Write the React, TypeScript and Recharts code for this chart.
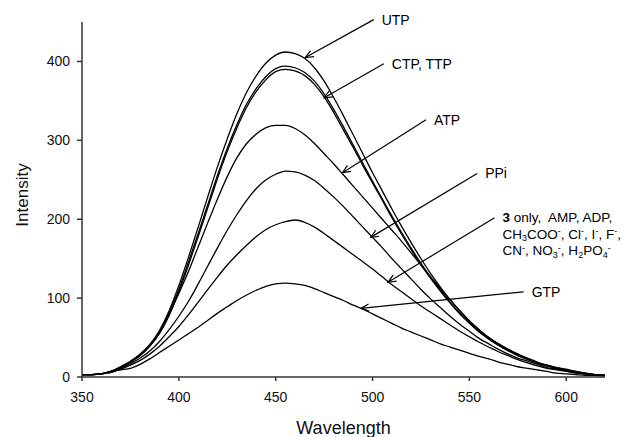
import React from 'react';
import { LineChart, Line, XAxis, YAxis, ReferenceLine, Label } from 'recharts';

const wavelengths = [350, 355, 360, 365, 370, 375, 380, 385, 390, 395, 400, 405, 410, 415, 420, 425, 430, 435, 440, 445, 450, 455, 460, 465, 470, 475, 480, 485, 490, 495, 500, 505, 510, 515, 520, 525, 530, 535, 540, 545, 550, 555, 560, 565, 570, 575, 580, 585, 590, 595, 600, 605, 610, 615, 620];

const utp = [3, 3, 4, 7, 13, 20, 29, 41, 59, 84, 116, 152, 190, 229, 267, 302, 334, 361, 382, 398, 408, 412, 410, 404, 392, 375, 354, 331, 307, 283, 259, 236, 213, 191, 170, 150, 131, 114, 98, 84, 71, 60, 50, 42, 35, 29, 24, 19, 15, 12, 10, 7, 5, 3, 2];
const ctp = [3, 3, 4, 7, 12, 19, 28, 40, 57, 81, 111, 146, 182, 219, 256, 290, 320, 346, 366, 381, 391, 394, 392, 386, 375, 359, 339, 317, 294, 271, 248, 226, 204, 183, 163, 144, 126, 110, 95, 81, 69, 58, 49, 41, 34, 28, 23, 18, 15, 12, 9, 7, 5, 3, 2];
const ttp = [3, 3, 4, 7, 12, 19, 27, 39, 55, 78, 108, 142, 178, 215, 252, 286, 316, 342, 362, 377, 387, 390, 388, 382, 371, 355, 335, 313, 291, 268, 246, 224, 202, 181, 161, 142, 125, 109, 94, 80, 68, 57, 48, 40, 33, 27, 22, 18, 14, 11, 9, 6, 4, 3, 2];
const atp = [3, 3, 4, 7, 13, 20, 29, 41, 58, 80, 106, 134, 165, 196, 226, 254, 278, 296, 308, 316, 319, 319, 315, 307, 296, 283, 270, 256, 242, 228, 214, 200, 186, 172, 157, 142, 127, 112, 98, 84, 71, 60, 50, 42, 35, 29, 23, 18, 14, 11, 9, 6, 4, 3, 2];
const ppi = [3, 3, 4, 6, 11, 17, 24, 33, 45, 60, 77, 96, 118, 141, 164, 186, 206, 224, 239, 250, 257, 261, 260, 256, 249, 239, 228, 216, 203, 190, 177, 164, 150, 137, 124, 111, 99, 88, 77, 67, 58, 49, 42, 35, 29, 24, 20, 16, 12, 10, 8, 6, 4, 3, 2];
const only3 = [3, 3, 4, 6, 10, 15, 21, 29, 39, 51, 64, 79, 95, 111, 127, 142, 155, 167, 178, 187, 193, 197, 199, 196, 190, 182, 173, 164, 155, 146, 137, 127, 117, 108, 99, 90, 82, 74, 66, 58, 51, 44, 38, 32, 27, 22, 18, 14, 11, 9, 7, 5, 4, 3, 2];
const gtp = [3, 3, 4, 7, 9, 11, 16, 23, 31, 39, 47, 55, 63, 72, 81, 89, 97, 104, 110, 115, 118, 119, 118, 116, 112, 107, 102, 97, 91, 86, 80, 74, 68, 62, 57, 52, 47, 42, 38, 34, 30, 26, 23, 19, 16, 13, 11, 9, 7, 5, 4, 3, 2, 2, 1];

const seriesKeys = ['UTP', 'CTP', 'TTP', 'ATP', 'PPi', 'only3', 'GTP'];
const seriesValues = [utp, ctp, ttp, atp, ppi, only3, gtp];

const xTicks = [350, 400, 450, 500, 550, 600];
const yTicks = [0, 100, 200, 300, 400];

// annotation arrows (data coordinates): tail and tip
const annotations = [
  { label: 'UTP', from: [500.6, 453], to: [465.3, 405] },
  { label: 'CTP, TTP', from: [505.8, 397], to: [475, 354] },
  { label: 'ATP', from: [527.6, 326], to: [484.5, 259] },
  { label: 'PPi', from: [554, 258], to: [499, 177] },
  { label: 'only3', from: [563, 202], to: [508, 120] },
  { label: 'GTP', from: [578, 108], to: [494, 87] },
];

const data = wavelengths.map((wl, i) => {
  const row: any = { wl };
  seriesKeys.forEach((k, j) => {
    row[k] = seriesValues[j][i];
  });
  return row;
});

const FONT = '"Liberation Sans", Arial, Helvetica, sans-serif';

type Part = [string, 'n' | 'sub' | 'sup'];

function renderParts(parts: Part[]) {
  let offset = 0;
  return parts.map(([t, kind], i) => {
    const target = kind === 'sub' ? 2.5 : kind === 'sup' ? -4.5 : 0;
    const dy = target - offset;
    offset = target;
    return (
      <tspan key={i} dy={dy} fontSize={kind === 'n' ? 13.5 : 9}>
        {t}
      </tspan>
    );
  });
}

const line2: Part[] = [
  ['CH', 'n'], ['3', 'sub'], ['COO', 'n'], ['-', 'sup'], [', Cl', 'n'], ['-', 'sup'],
  [', I', 'n'], ['-', 'sup'], [', F', 'n'], ['-', 'sup'], [',', 'n'],
];
const line3: Part[] = [
  ['CN', 'n'], ['-', 'sup'], [', NO', 'n'], ['3', 'sub'], ['-', 'sup'], [', H', 'n'],
  ['2', 'sub'], ['PO', 'n'], ['4', 'sub'], ['-', 'sup'],
];

function makeArrowShape(label: string) {
  return (p: any) => {
    const { x1, y1, x2, y2 } = p;
    if ([x1, y1, x2, y2].some((v) => typeof v !== 'number' || isNaN(v))) return <g />;
    const dx = x2 - x1;
    const dy = y2 - y1;
    const len = Math.sqrt(dx * dx + dy * dy) || 1;
    const ux = dx / len;
    const uy = dy / len;
    const hl = 8;
    const hw = 3.5;
    const bx = x2 - ux * hl;
    const by = y2 - uy * hl;
    const ax = bx - uy * hw;
    const ay = by + ux * hw;
    const cx = bx + uy * hw;
    const cy = by - ux * hw;
    const tx = x1 + 8;
    let text;
    if (label === 'only3') {
      text = (
        <g fontFamily={FONT} fill="#000">
          <text x={tx} y={y1 + 4} fontSize={13.5}>
            <tspan fontWeight="bold">3</tspan>
            <tspan>{' only,\u00a0 AMP, ADP,'}</tspan>
          </text>
          <text x={tx} y={y1 + 21} fontSize={13.5}>
            {renderParts(line2)}
          </text>
          <text x={tx} y={y1 + 37.5} fontSize={13.5}>
            {renderParts(line3)}
          </text>
        </g>
      );
    } else {
      text = (
        <text x={tx} y={y1 + 5} fontFamily={FONT} fill="#000" fontSize={14}>
          {label}
        </text>
      );
    }
    return (
      <g>
        <line x1={x1} y1={y1} x2={x2} y2={y2} stroke="#000" strokeWidth={1.2} />
        <polyline points={`${ax},${ay} ${x2},${y2} ${cx},${cy}`} fill="none" stroke="#000" strokeWidth={1.2} />
        {text}
      </g>
    );
  };
}

export default function App() {
  return (
    <div style={{ position: 'absolute', left: 0, top: 0, background: '#fff' }}>
      <LineChart
        width={635}
        height={437}
        data={data}
        margin={{ top: 22, right: 30, left: 0, bottom: 0 }}
      >
        <XAxis
          dataKey="wl"
          type="number"
          domain={[350, 620]}
          ticks={xTicks}
          height={60}
          tickSize={4}
          tickMargin={11}
          stroke="#333"
          strokeWidth={1.5}
          tick={{ fill: '#111', fontSize: 14, fontFamily: FONT }}
          allowDataOverflow
        >
          <Label
            content={(props: any) => {
              const vb = props.viewBox || { x: 82, y: 377, width: 523, height: 60 };
              return (
                <text
                  x={vb.x + vb.width / 2}
                  y={434}
                  textAnchor="middle"
                  fontFamily={FONT}
                  fontSize={18}
                  fill="#111"
                >
                  Wavelength
                </text>
              );
            }}
          />
        </XAxis>
        <YAxis
          type="number"
          domain={[0, 450]}
          ticks={yTicks}
          width={82}
          tickSize={5}
          tickMargin={7}
          stroke="#333"
          strokeWidth={1.5}
          tick={{ fill: '#111', fontSize: 14, fontFamily: FONT }}
          allowDataOverflow
        >
          <Label
            content={() => (
              <text
                x={28}
                y={195}
                transform="rotate(-90 28 195)"
                textAnchor="middle"
                fontFamily={FONT}
                fontSize={17}
                fill="#111"
              >
                Intensity
              </text>
            )}
          />
        </YAxis>
        {seriesKeys.map((k) => (
          <Line
            key={k}
            dataKey={k}
            type="monotone"
            stroke="#000"
            strokeWidth={1.3}
            dot={false}
            activeDot={false}
            isAnimationActive={false}
          />
        ))}
        {annotations.map((a) => (
          <ReferenceLine
            key={a.label}
            segment={[
              { x: a.from[0], y: a.from[1] },
              { x: a.to[0], y: a.to[1] },
            ]}
            ifOverflow="visible"
            shape={makeArrowShape(a.label)}
          />
        ))}
      </LineChart>
    </div>
  );
}
